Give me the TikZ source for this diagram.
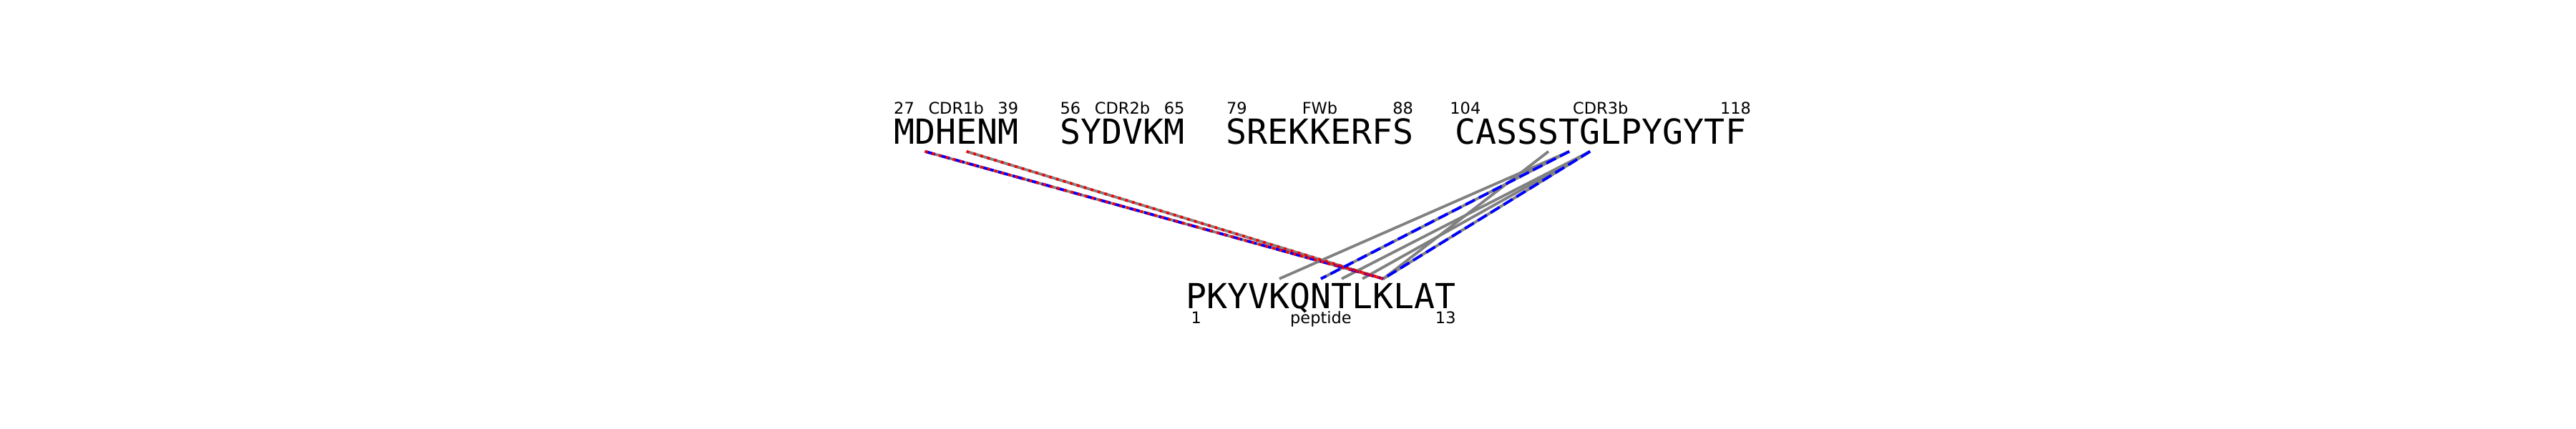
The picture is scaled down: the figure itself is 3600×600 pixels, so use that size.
\documentclass[tikz,border=0pt]{standalone}
\usepackage{fontspec}
\setmainfont{DejaVu Sans}
\newfontfamily\seqfont{DejaVu Sans Mono}
\usetikzlibrary{calc}
\definecolor{lgray}{RGB}{128,128,128}
\begin{document}
\begin{tikzpicture}[x=0.25pt,y=-0.25pt,
  res/.style={anchor=base,inner sep=0pt,text height=10.25pt,text depth=2.325pt,font=\seqfont\fontsize{12.06pt}{14pt}\selectfont},
  pres/.style={res,text depth=0pt},
  lab/.style={anchor=base,inner sep=0pt,font=\fontsize{5.625pt}{7pt}\selectfont},
  link/.style={draw=lgray,line width=0.95pt},
  bdash/.style={draw=blue,line width=0.95pt,dash pattern=on 3.7pt off 1.6pt},
  rdot/.style={draw=red,line width=0.95pt,dash pattern=on 0.95pt off 1.57pt}]
\useasboundingbox (0,0) rectangle (3600,600);
% top sequence residues
\foreach \c [count=\i from 1] in {M,D,H,E,N,M}
  \node[res] (t\i) at ({1249+(\i-0.5)*29.05},201.7) {\c};
\foreach \c [count=\i from 9] in {S,Y,D,V,K,M}
  \node[res] (t\i) at ({1249+(\i-0.5)*29.05},201.7) {\c};
\foreach \c [count=\i from 17] in {S,R,E,K,K,E,R,F,S}
  \node[res] (t\i) at ({1249+(\i-0.5)*29.05},201.7) {\c};
\foreach \c [count=\i from 28] in {C,A,S,S,S,T,G,L,P,Y,G,Y,T,F}
  \node[res] (t\i) at ({1249+(\i-0.5)*29.05},201.7) {\c};
% peptide residues
\foreach \c [count=\i from 1] in {P,K,Y,V,K,Q,N,T,L,K,L,A,T}
  \node[pres] (p\i) at ({1642.6+\i*29.05},431.7) {\c};
% region labels
\node[lab,yshift=10.6pt] (n27) at (t1.base) {27};
\node[lab,yshift=10.6pt] (n39) at (t6.base) {39};
\node[lab,yshift=10.6pt] (cdr1) at ($(t1.base)!0.5!(t6.base)$) {CDR1b};
\node[lab,yshift=10.6pt] (n56) at (t9.base) {56};
\node[lab,yshift=10.6pt] (n65) at (t14.base) {65};
\node[lab,yshift=10.6pt] (cdr2) at ($(t9.base)!0.5!(t14.base)$) {CDR2b};
\node[lab,yshift=10.6pt] (n79) at (t17.base) {79};
\node[lab,yshift=10.6pt] (n88) at (t25.base) {88};
\node[lab,yshift=10.6pt] (fwb) at ($(t17.base)!0.5!(t25.base)$) {FWb};
\node[lab,yshift=10.6pt] (n104) at (t28.base) {104};
\node[lab,yshift=10.6pt] (n118) at (t41.base) {118};
\node[lab,yshift=10.6pt] (cdr3) at ($(t28.base)!0.5!(t41.base)$) {CDR3b};
\node[lab,yshift=-5.15pt] (n1) at (p1.base) {1};
\node[lab,yshift=-5.15pt] (n13) at (p13.base) {13};
\node[lab,yshift=-5.15pt] (pep) at (p7.base) {peptide};
% contacts
\draw[link] (t2.south) -- (p10.north);
\draw[link] (t4.south) -- (p10.north);
\draw[link] (t33.south) -- (p5.north);
\draw[link] (t33.south) -- (p7.north);
\draw[link] (t34.south) -- (p8.north);
\draw[link] (t34.south) -- (p9.north);
\draw[link] (t32.south) -- (p10.north);
\draw[link] (t34.south) -- (p10.north);
\draw[bdash] (t2.south) -- (p10.north);
\draw[rdot] (t2.south) -- (p10.north);
\draw[rdot] (t4.south) -- (p10.north);
\draw[bdash] (t33.south) -- (p7.north);
\draw[bdash] (t34.south) -- (p10.north);
\end{tikzpicture}
\end{document}
